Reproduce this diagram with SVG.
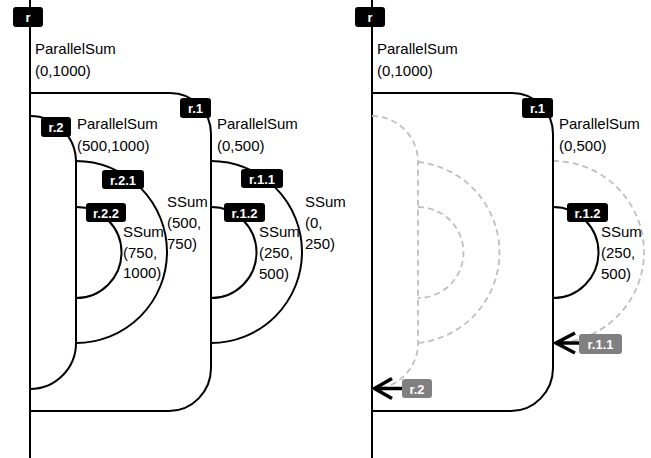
<svg xmlns="http://www.w3.org/2000/svg" width="651" height="458" viewBox="0 0 651 458">
<style>
.ln{fill:none;stroke:#000;stroke-width:2}
.ds{fill:none;stroke:#bfbfbf;stroke-width:1.8;stroke-dasharray:6 4}
.bd{fill:#000}
.bg{fill:#808080}
.bt{font-family:"Liberation Sans",Arial,sans-serif;font-size:13px;font-weight:bold;fill:#fff;text-anchor:middle}
.lb{font-family:"Liberation Sans",Arial,sans-serif;font-size:15px;fill:#000}
.ar{fill:none;stroke:#000;stroke-width:3.5;stroke-linejoin:miter}
</style>
<rect width="651" height="458" fill="#fff"/>

<!-- LEFT PANEL -->
<g id="L-r">
<path class="ln" d="M30 0V458"/>
<rect class="bd" x="13" y="7" width="30" height="20" rx="3"/>
<text class="bt" x="28" y="22">r</text>
<text class="lb" x="35" y="54">ParallelSum</text>
<text class="lb" x="35" y="76">(0,1000)</text>
</g>
<g id="L-r1">
<path class="ln" d="M30 93H170A41 41 0 0 1 211 134V368A42 43 0 0 1 169 411H30"/>
<rect class="bd" x="180" y="98" width="31" height="20" rx="3"/>
<text class="bt" x="195.5" y="113">r.1</text>
<text class="lb" x="217" y="129">ParallelSum</text>
<text class="lb" x="217" y="151">(0,500)</text>
</g>
<g id="L-r2">
<path class="ln" d="M30 116A46 46 0 0 1 76 162V343A46 46 0 0 1 30 389"/>
<rect class="bd" x="41" y="117" width="30" height="20" rx="3"/>
<text class="bt" x="56" y="132">r.2</text>
<text class="lb" x="77" y="129">ParallelSum</text>
<text class="lb" x="77" y="151">(500,1000)</text>
</g>
<g id="L-r21">
<path class="ln" d="M76 161A91 91 0 0 1 76 343"/>
<rect class="bd" x="102" y="170" width="42" height="19" rx="3"/>
<text class="bt" x="123" y="184.5">r.2.1</text>
<text class="lb" x="167" y="207">SSum</text>
<text class="lb" x="167" y="228">(500,</text>
<text class="lb" x="167" y="249">750)</text>
</g>
<g id="L-r22">
<path class="ln" d="M76 207A45.5 45.5 0 0 1 76 298"/>
<rect class="bd" x="86" y="203" width="40" height="19" rx="3"/>
<text class="bt" x="106" y="217.5">r.2.2</text>
<text class="lb" x="123" y="237">SSum</text>
<text class="lb" x="123" y="258">(750,</text>
<text class="lb" x="123" y="278">1000)</text>
</g>
<g id="L-r11">
<path class="ln" d="M211 161A91 91 0 0 1 211 343"/>
<rect class="bd" x="241" y="169" width="42" height="19" rx="3"/>
<text class="bt" x="262" y="183.5">r.1.1</text>
<text class="lb" x="305" y="207">SSum</text>
<text class="lb" x="305" y="228">(0,</text>
<text class="lb" x="305" y="249">250)</text>
</g>
<g id="L-r12">
<path class="ln" d="M211 207A45.5 45.5 0 0 1 211 298"/>
<rect class="bd" x="224" y="203" width="41" height="19" rx="3"/>
<text class="bt" x="244.5" y="217.5">r.1.2</text>
<text class="lb" x="259" y="237">SSum</text>
<text class="lb" x="259" y="258">(250,</text>
<text class="lb" x="259" y="279">500)</text>
</g>

<!-- RIGHT PANEL -->
<g id="R-r">
<path class="ln" d="M372 0V458"/>
<rect class="bd" x="355" y="7" width="30" height="20" rx="3"/>
<text class="bt" x="370" y="22">r</text>
<text class="lb" x="377" y="54">ParallelSum</text>
<text class="lb" x="377" y="76">(0,1000)</text>
</g>
<g id="R-r2">
<path class="ds" d="M372 116A46 46 0 0 1 418 162V343A46 46 0 0 1 372 389"/>
<path class="ds" d="M418 162A91 91 0 0 1 418 343"/>
<path class="ds" d="M418 207A45.5 45.5 0 0 1 418 298"/>
</g>
<g id="R-r11">
<path class="ds" d="M553 161A91 91 0 0 1 553 343"/>
</g>
<g id="R-r1">
<path class="ln" d="M372 93H512A41 41 0 0 1 553 134V368A42 43 0 0 1 511 411H372"/>
<rect class="bd" x="522" y="98" width="31" height="20" rx="3"/>
<text class="bt" x="537.5" y="113">r.1</text>
<text class="lb" x="559" y="129">ParallelSum</text>
<text class="lb" x="559" y="151">(0,500)</text>
</g>
<g id="R-r12">
<path class="ln" d="M553 207A45.5 45.5 0 0 1 553 298"/>
<rect class="bd" x="567" y="203" width="41" height="19" rx="3"/>
<text class="bt" x="587.5" y="217.5">r.1.2</text>
<text class="lb" x="601" y="237">SSum</text>
<text class="lb" x="601" y="258">(250,</text>
<text class="lb" x="601" y="279">500)</text>
</g>

<g id="connectors">
<path class="ar" d="M392 378.5L374.5 388.5L392 398.5M374.5 388.5H403"/>
<path class="ar" d="M575 333L556 343L575 353M556 343H580"/>
</g>
<g id="R-r2-ret">
<rect class="bg" x="402" y="379" width="30" height="19" rx="3"/>
<text class="bt" x="417" y="393.5">r.2</text>
</g>
<g id="R-r11-ret">
<rect class="bg" x="579" y="334" width="43" height="20" rx="3"/>
<text class="bt" x="600.5" y="349">r.1.1</text>
</g>
</svg>
